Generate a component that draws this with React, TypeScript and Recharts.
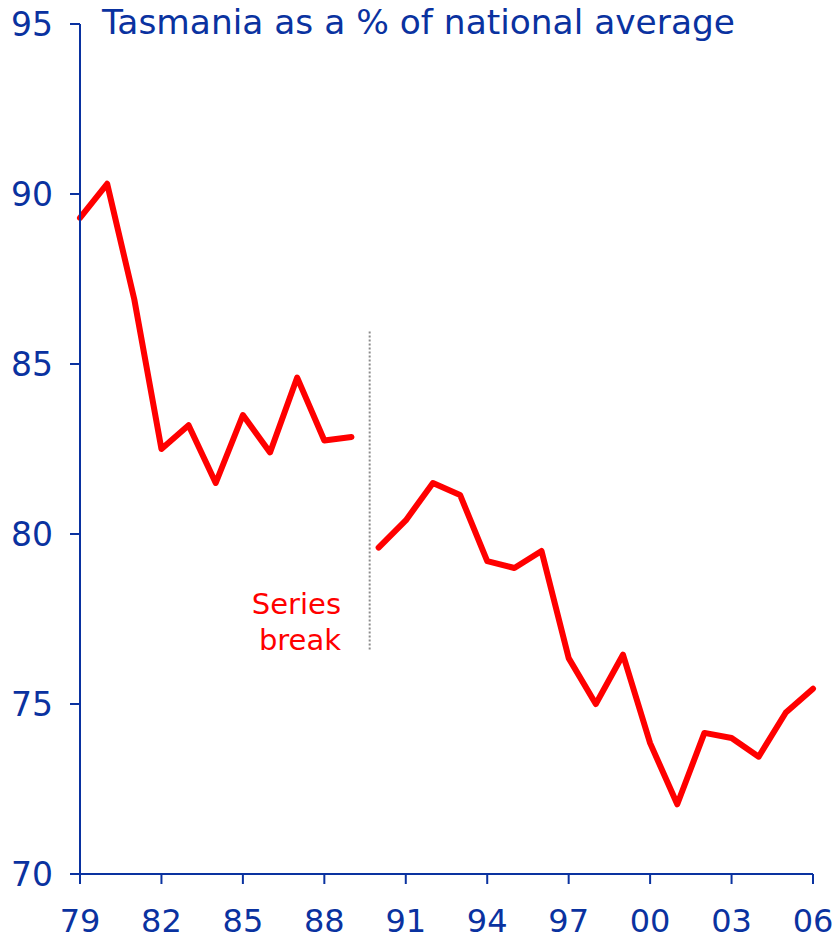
import React from 'react';
import { LineChart, Line, XAxis, YAxis, ReferenceLine } from 'recharts';

const years = [1979,1980,1981,1982,1983,1984,1985,1986,1987,1988,1989,1990,1991,1992,1993,1994,1995,1996,1997,1998,1999,2000,2001,2002,2003,2004,2005,2006];
const oldSeries = [89.3,90.3,86.9,82.5,83.2,81.5,83.5,82.4,84.6,82.75,82.85,null,null,null,null,null,null,null,null,null,null,null,null,null,null,null,null,null];
const newSeries = [null,null,null,null,null,null,null,null,null,null,null,79.6,80.4,81.5,81.15,79.2,79.0,79.5,76.35,75.0,76.45,73.85,72.05,74.15,74.0,73.45,74.75,75.45];
const xTicks = [1979,1982,1985,1988,1991,1994,1997,2000,2003,2006];
const yTicks = [70,75,80,85,90,95];
const breakYear = 1989.67;
const breakRange = [76.6, 86];
const title = 'Tasmania as a % of national average';
const breakLabel = ['Series', 'break'];

const data = years.map((y, i) => ({ year: y, old: oldSeries[i], nw: newSeries[i] }));

const BLUE = '#0a32a0';
const FONT = '"DejaVu Sans", Verdana, sans-serif';

export default function App() {
  return (
    <div style={{ position: 'absolute', left: 0, top: 0, width: 836, height: 938, background: '#fff', fontFamily: FONT }}>
      <LineChart width={836} height={938} data={data} margin={{ top: 24, right: 23, left: 0, bottom: 4 }}>
        <XAxis
          dataKey="year"
          type="number"
          domain={[1979, 2006]}
          ticks={xTicks}
          tickFormatter={(v: number) => String(v).slice(2)}
          stroke={BLUE}
          strokeWidth={2}
          tickSize={10}
          tickMargin={25}
          height={60}
          tick={{ fill: BLUE, fontSize: 32, fontFamily: FONT }}
          interval={0}
        />
        <YAxis
          type="number"
          domain={[70, 95]}
          ticks={yTicks}
          stroke={BLUE}
          strokeWidth={2}
          tickSize={10}
          tickMargin={17}
          width={80}
          tick={{ fill: BLUE, fontSize: 33, fontFamily: FONT }}
          interval={0}
        />
        <ReferenceLine
          segment={[{ x: breakYear, y: breakRange[0] }, { x: breakYear, y: breakRange[1] }]}
          stroke="#8c8c8c"
          strokeWidth={2}
          strokeDasharray="2 2"
        />
        <Line dataKey="old" stroke="#ff0000" strokeWidth={6} dot={false} isAnimationActive={false} connectNulls={false} strokeLinejoin="round" strokeLinecap="round" />
        <Line dataKey="nw" stroke="#ff0000" strokeWidth={6} dot={false} isAnimationActive={false} connectNulls={false} strokeLinejoin="round" strokeLinecap="round" />
      </LineChart>
      <div style={{ position: 'absolute', left: 102, top: 2, fontSize: 34.4, color: BLUE, whiteSpace: 'nowrap', lineHeight: '40px' }}>{title}</div>
      <div style={{ position: 'absolute', right: 836 - 341, top: 586, fontSize: 29, color: '#ff0000', textAlign: 'right', lineHeight: '36px' }}>
        <div>{breakLabel[0]}</div>
        <div>{breakLabel[1]}</div>
      </div>
    </div>
  );
}
